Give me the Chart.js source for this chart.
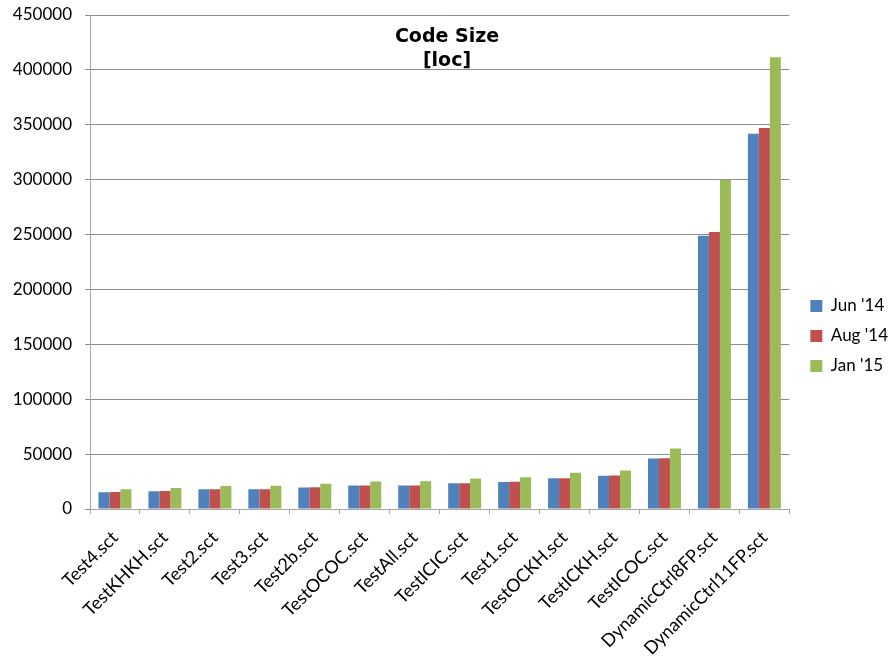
<!DOCTYPE html>
<html>
<head>
<meta charset="utf-8">
<title>Code Size</title>
<script src="https://cdn.jsdelivr.net/npm/chart.js@4"></script>
<style>
  html, body { margin: 0; padding: 0; background: #fff; }
  #wrap { width: 892px; height: 661px; position: relative; }
</style>
</head>
<body>
<div id="wrap"><canvas id="chart"></canvas></div>
<script>
/* code size per test script, three snapshots */

const scripts = [
  'Test4.sct', 'TestKHKH.sct', 'Test2.sct', 'Test3.sct', 'Test2b.sct',
  'TestOCOC.sct', 'TestAll.sct', 'TestICIC.sct', 'Test1.sct', 'TestOCKH.sct',
  'TestICKH.sct', 'TestICOC.sct', 'DynamicCtrl8FP.sct', 'DynamicCtrl11FP.sct',
];

const jun14 = [15200, 16100, 17900, 17900, 19500, 21300, 21300, 23400, 24600, 28000, 30400, 45900, 249000, 341800];
const aug14 = [15400, 16300, 17900, 18100, 19700, 21300, 21500, 23400, 24800, 28000, 30600, 46300, 252400, 347000];
const jan15 = [17900, 19100, 21000, 21200, 23100, 25000, 25300, 27700, 28900, 33100, 35000, 55000, 300000, 411500];

const yTicks = [0, 50000, 100000, 150000, 200000, 250000, 300000, 350000, 400000, 450000];

const FONT = 'Lato, "Open Sans", sans-serif';
const TITLE_FONT = '"DejaVu Sans", sans-serif';
const GRID = '#8c8c8c';
const AXIS = '#a6a6a6';

// title sits inside the plot area, so draw it by hand
const titleInside = {
  id: 'titleInside',
  afterDraw(chart) {
    const { ctx } = chart;
    ctx.save();
    ctx.fillStyle = '#000';
    ctx.font = `bold 19px ${TITLE_FONT}`;
    ctx.textAlign = 'center';
    ctx.textBaseline = 'alphabetic';
    ctx.fillText('Code Size', 447, 42);
    ctx.fillText('[loc]', 447, 66);
    ctx.restore();
  },
};

// nudge the legend a bit further from the plot without changing item spacing
const legendNudge = {
  id: 'legendNudge',
  afterLayout(chart) {
    const lg = chart.legend;
    if (!lg) return;
    lg.left += 8; lg.right += 8;
    lg.top -= 2; lg.bottom -= 2;
  },
};

new Chart(document.getElementById('chart'), {
  type: 'bar',
  data: {
    labels: scripts,
    datasets: [
      { label: "Jun '14", data: jun14, backgroundColor: '#4f81bd' },
      { label: "Aug '14", data: aug14, backgroundColor: '#c0504d' },
      { label: "Jan '15", data: jan15, backgroundColor: '#9bbb59' },
    ],
  },
  options: {
    responsive: true, maintainAspectRatio: false, animation: false,
    layout: { padding: { top: 15, right: 2, left: 0, bottom: 0 } },
    datasets: { bar: { categoryPercentage: 0.66, barPercentage: 1.0 } },
    scales: {
      x: {
        grid: { drawOnChartArea: false, drawTicks: true, tickLength: 5, offset: true, color: AXIS },
        border: { color: AXIS },
        ticks: { color: '#000', font: { family: FONT, size: 18 }, maxRotation: 45, minRotation: 45, autoSkip: false, padding: 13 },
        afterFit(scale) { scale.height = 152; scale.paddingTop = 0; },
      },
      y: {
        min: 0, max: 450000,
        afterBuildTicks(scale) { scale.ticks = yTicks.map((v) => ({ value: v })); },
        grid: { color: GRID, tickLength: 5 },
        border: { color: AXIS },
        ticks: { color: '#000', font: { family: FONT, size: 17 }, padding: 13, callback: (v) => String(v) },
        afterFit(scale) { scale.width = 90; scale.paddingTop = 0; },
      },
    },
    plugins: {
      legend: {
        position: 'right',
        labels: {
          boxWidth: 12, boxHeight: 12, padding: 13,
          color: '#000', font: { family: FONT, size: 17 },
        },
      },
      tooltip: { enabled: false },
    },
  },
  plugins: [titleInside, legendNudge],
});
</script>
</body>
</html>
